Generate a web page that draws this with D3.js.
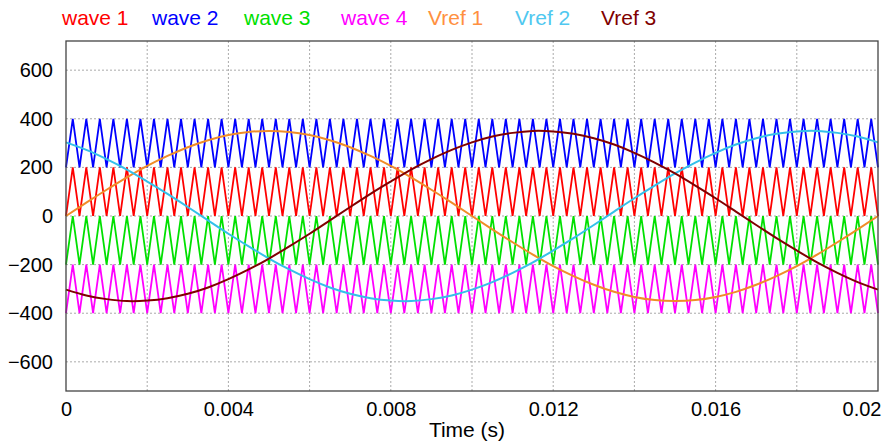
<!DOCTYPE html>
<html>
<head>
<meta charset="utf-8">
<script src="https://cdn.jsdelivr.net/npm/d3@7"></script>
<style>
  body { margin: 0; background: #fff; }
  text { font-family: "Liberation Sans", Arial, sans-serif; }
</style>
</head>
<body>
<div id="chart"></div>
<script>
// data
var seriesNames = ["wave 1", "wave 2", "wave 3", "wave 4", "Vref 1", "Vref 2", "Vref 3"];
var seriesColors = ["#ff0000", "#0000ff", "#00e000", "#ff00ff", "#f08c28", "#33c0ea", "#800000"];

// carrier vertices (ms), alternating low / high
var carrierTimes = [
  0,0.167,0.333,0.5,0.667,0.833, 1,1.167,1.333,1.5,1.667,1.833,
  2,2.167,2.333,2.5,2.667,2.833, 3,3.167,3.333,3.5,3.667,3.833,
  4,4.167,4.333,4.5,4.667,4.833, 5,5.167,5.333,5.5,5.667,5.833,
  6,6.167,6.333,6.5,6.667,6.833, 7,7.167,7.333,7.5,7.667,7.833,
  8,8.167,8.333,8.5,8.667,8.833, 9,9.167,9.333,9.5,9.667,9.833,
  10,10.167,10.333,10.5,10.667,10.833, 11,11.167,11.333,11.5,11.667,11.833,
  12,12.167,12.333,12.5,12.667,12.833, 13,13.167,13.333,13.5,13.667,13.833,
  14,14.167,14.333,14.5,14.667,14.833, 15,15.167,15.333,15.5,15.667,15.833,
  16,16.167,16.333,16.5,16.667,16.833, 17,17.167,17.333,17.5,17.667,17.833,
  18,18.167,18.333,18.5,18.667,18.833, 19,19.167,19.333,19.5,19.667,19.833,
  20
];
var waveLow  = [0, 200, -200, -400];
var waveHigh = [200, 400, 0, -200];

// reference samples every 0.5 ms
var refTimes = [0,0.5,1,1.5,2,2.5,3,3.5,4,4.5,5,5.5,6,6.5,7,7.5,8,8.5,9,9.5,10,
  10.5,11,11.5,12,12.5,13,13.5,14,14.5,15,15.5,16,16.5,17,17.5,18,18.5,19,19.5,20];
var vref1 = [0,55,108,159,206,247,283,312,333,346,350,346,333,312,283,247,206,159,108,55,0,
  -55,-108,-159,-206,-247,-283,-312,-333,-346,-350,-346,-333,-312,-283,-247,-206,-159,-108,-55,0];
var vref2 = [303,272,234,191,142,91,37,-18,-73,-125,-175,-220,-260,-294,-320,-338,-348,-350,-342,-327,-303,
  -272,-234,-191,-142,-91,-37,18,73,125,175,220,260,294,320,338,348,350,342,327,303];
var vref3 = [-303,-327,-342,-350,-348,-338,-320,-294,-260,-220,-175,-125,-73,-18,37,91,142,191,234,272,303,
  327,342,350,348,338,320,294,260,220,175,125,73,18,-37,-91,-142,-191,-234,-272,-303];

var yTicks = [-600, -400, -200, 0, 200, 400, 600];
var xTicks = [0, 0.004, 0.008, 0.012, 0.016, 0.02];
var xTickLabels = ["0", "0.004", "0.008", "0.012", "0.016", "0.02"];
var xGrid = [0.002, 0.004, 0.006, 0.008, 0.01, 0.012, 0.014, 0.016, 0.018];

// chart
var width = 891, height = 441;
var margin = {top: 41, right: 13, bottom: 50, left: 66};

var svg = d3.select("#chart").append("svg")
  .attr("width", width)
  .attr("height", height);

var x = d3.scaleLinear().domain([0, 0.02]).range([margin.left, width - margin.right]);
var y = d3.scaleLinear().domain([-720, 720]).range([height - margin.bottom, margin.top]);

// grid
svg.append("g").selectAll("line").data(xGrid).enter().append("line")
  .attr("x1", function(d) { return x(d); }).attr("x2", function(d) { return x(d); })
  .attr("y1", y(720)).attr("y2", y(-720))
  .attr("stroke", "#aaa").attr("stroke-dasharray", "2,2");

svg.append("g").selectAll("line").data(yTicks).enter().append("line")
  .attr("x1", x(0)).attr("x2", x(0.02))
  .attr("y1", function(d) { return y(d); }).attr("y2", function(d) { return y(d); })
  .attr("stroke", "#aaa").attr("stroke-dasharray", "2,2");

// axes labels
var yAxis = d3.axisLeft(y).tickValues(yTicks).tickSize(0).tickPadding(13);
svg.append("g")
  .attr("transform", "translate(" + margin.left + ",0)")
  .call(yAxis)
  .call(function(g) { g.select(".domain").remove(); })
  .selectAll("text")
  .style("font-size", "20px").attr("fill", "#000");

var xAxis = d3.axisBottom(x).tickValues(xTicks)
  .tickFormat(function(d, i) { return xTickLabels[i]; })
  .tickSize(0).tickPadding(11);
var gx = svg.append("g")
  .attr("transform", "translate(0," + (height - margin.bottom) + ")")
  .call(xAxis);
gx.select(".domain").remove();
gx.selectAll("text").style("font-size", "20px").attr("fill", "#000");
gx.selectAll("text").filter(function(d, i) { return i === xTicks.length - 1; })
  .attr("text-anchor", "end").attr("dx", "3px");

svg.append("text")
  .attr("x", (x(0) + x(0.02)) / 2 - 5)
  .attr("y", 437)
  .attr("text-anchor", "middle")
  .style("font-size", "21px")
  .text("Time (s)");

// carriers
var plot = svg.append("g");
var carrierLine = d3.line()
  .x(function(d) { return x(d[0] / 1000); })
  .y(function(d) { return y(d[1]); });

for (var w = 0; w < 4; w++) {
  var pts = [];
  for (var i = 0; i < carrierTimes.length; i++) {
    pts.push([carrierTimes[i], i % 2 === 0 ? waveLow[w] : waveHigh[w]]);
  }
  plot.append("path")
    .attr("d", carrierLine(pts))
    .attr("fill", "none")
    .attr("stroke", seriesColors[w])
    .attr("stroke-width", 1.8);
}

// references
var refLine = d3.line()
  .curve(d3.curveNatural)
  .x(function(d) { return x(d[0] / 1000); })
  .y(function(d) { return y(d[1]); });

[vref1, vref2, vref3].forEach(function(vals, j) {
  var pts = refTimes.map(function(t, i) { return [t, vals[i]]; });
  plot.append("path")
    .attr("d", refLine(pts))
    .attr("fill", "none")
    .attr("stroke", seriesColors[4 + j])
    .attr("stroke-width", 2);
});

// frame
svg.append("rect")
  .attr("x", x(0)).attr("y", y(720))
  .attr("width", x(0.02) - x(0)).attr("height", y(-720) - y(720))
  .attr("fill", "none").attr("stroke", "#444").attr("stroke-width", 1.3);

// legend
var legendX = [62, 152, 244, 341, 428, 515, 601];
svg.append("g").selectAll("text").data(seriesNames).enter().append("text")
  .attr("x", function(d, i) { return legendX[i]; })
  .attr("y", 25)
  .style("font-size", "21px")
  .attr("fill", function(d, i) { return i === 4 ? "#ff9040" : (i === 5 ? "#50c8f0" : seriesColors[i]); })
  .text(function(d) { return d; });
</script>
</body>
</html>
